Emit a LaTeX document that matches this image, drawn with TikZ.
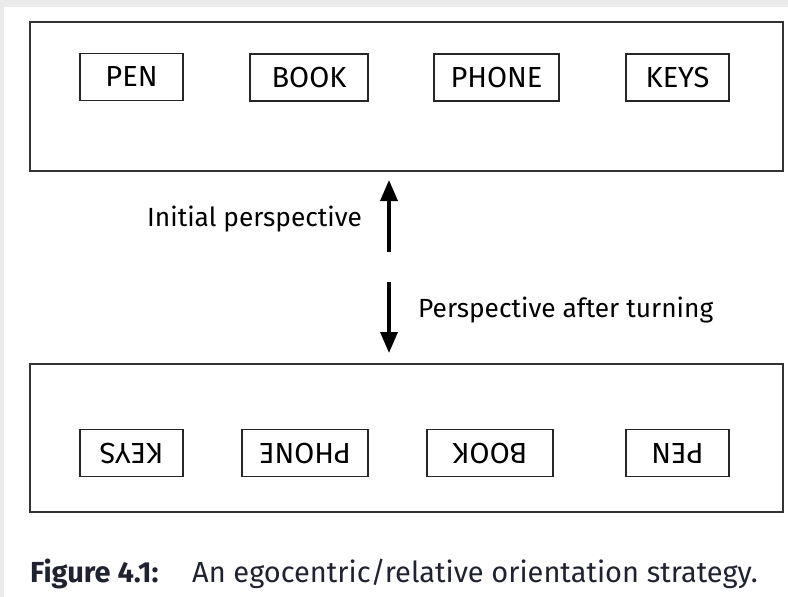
\documentclass[tikz,border=0pt]{standalone}
\usepackage{fontspec}
\setmainfont{Fira Sans}
\usetikzlibrary{arrows.meta}
\definecolor{pagegray}{HTML}{EBEBEB}
\definecolor{captionink}{HTML}{1F2230}
\tikzset{
  panel/.style={draw=black!80, line width=1.6pt},
  item/.style={draw=black!85, line width=1.6pt, minimum height=47pt,
    inner sep=0pt, font=\fontsize{29}{34}\selectfont},
  turned/.style={item, rotate=180},
  view/.style={line width=3.5pt, -{Triangle[width=17pt,length=21pt]}},
  lbl/.style={font=\fontsize{26.3}{31}\selectfont, inner sep=0pt, anchor=base west},
  captxt/.style={lbl, text=captionink, font=\fontsize{29}{34}\selectfont}
}
\begin{document}
\begin{tikzpicture}[x=1pt,y=-1pt]
 % page background
 \fill[pagegray] (0,0) rectangle (788,597);
 \fill[white] (4,7) rectangle (788,597);
 \useasboundingbox (0,0) rectangle (788,597);
 % initial view
 \draw[panel] (30,22) rectangle (783,171);
 \node[item, minimum width=103pt] (pen) at (131.5,77) {PEN};
 \node[item, minimum width=118pt] (book) at (309,77.5) {BOOK};
 \node[item, minimum width=125pt] (phone) at (496.5,77.5) {PHONE};
 \node[item, minimum width=103pt] (keys) at (677.5,77.5) {KEYS};
 % view after turning
 \draw[panel] (30,364) rectangle (783,512);
 \node[turned, minimum width=103pt] (keys2) at (131.5,453) {KEYS};
 \node[turned, minimum width=126pt] (phone2) at (305,453) {PHONE};
 \node[turned, minimum width=126pt] (book2) at (490,453) {BOOK};
 \node[turned, minimum width=103pt] (pen2) at (677.5,453) {PEN};
 % arrows
 \coordinate (upfrom) at (389,252);
 \coordinate (upto) at (389,180);
 \coordinate (downfrom) at (389,282);
 \coordinate (downto) at (389,353);
 \draw[view] (upfrom) -- (upto);
 \draw[view] (downfrom) -- (downto);
 \node[lbl] (initial) at (147,226) {Initial perspective};
 \node[lbl] (after) at (418,317) {Perspective after turning};
 % caption
 \node[captxt, font=\fontsize{29}{34}\selectfont\bfseries] (fig) at (30,582) {Figure 4.1:};
 \node[captxt] (cap) at (192,582) {An egocentric/relative orientation strategy.};
\end{tikzpicture}
\end{document}
